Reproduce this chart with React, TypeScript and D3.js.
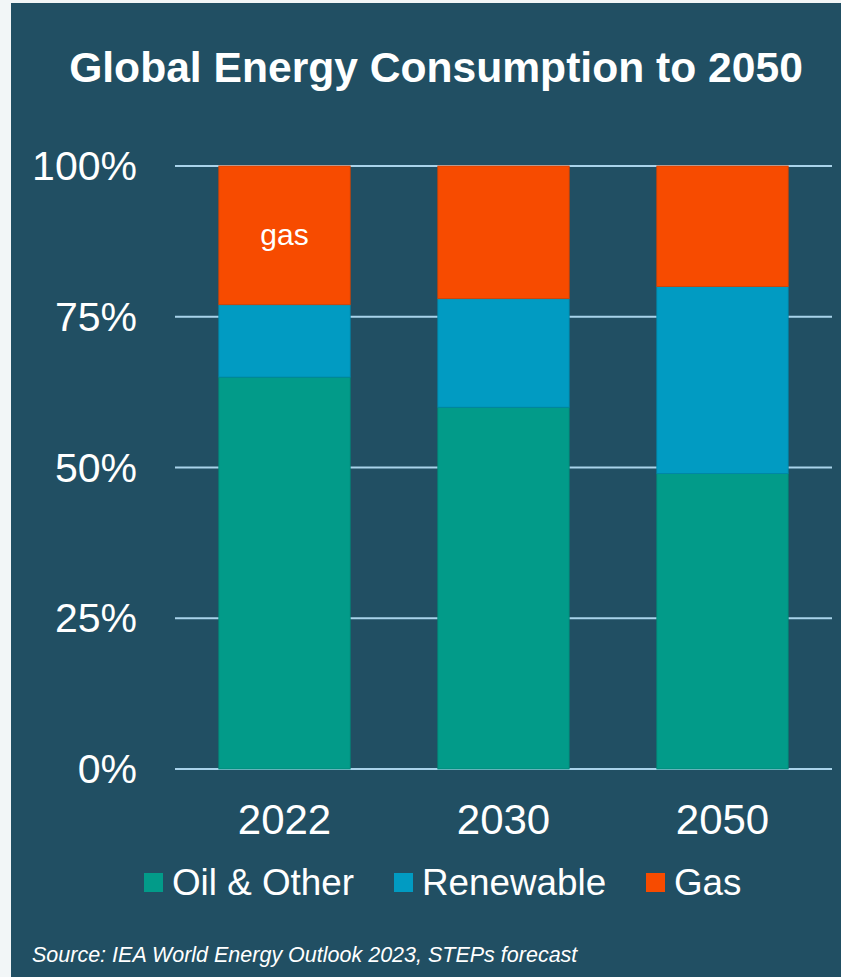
import React from "react";
import * as d3 from "d3";

const years = ["2022", "2030", "2050"];
const seriesNames = ["Oil & Other", "Renewable", "Gas"];
const oilOther = [65, 60, 49];
const renewable = [12, 18, 31];
const gas = [23, 22, 20];
const yTicks = [0, 25, 50, 75, 100];
const colors = ["#029b89", "#019bc2", "#f74b00"];

const W = 841;
const H = 977;

export default function App() {
  const x = d3.scaleBand<string>().domain(years).range([175, 832]).paddingInner(0.4).paddingOuter(0.2);
  const y = d3.scaleLinear().domain([0, 100]).range([769, 166]);

  const rows = years.map((yr, i) => ({ year: yr, "Oil & Other": oilOther[i], Renewable: renewable[i], Gas: gas[i] }));
  const stack = d3.stack<any>().keys(seriesNames)(rows);

  const legendX = [144, 394, 646];

  return (
    <svg width={W} height={H} style={{ position: "fixed", left: 0, top: 0, display: "block" }}
      fontFamily="'Liberation Sans', Arial, Helvetica, sans-serif">
      <rect x={0} y={0} width={W} height={H} fill="#f2f6f7" />
      <rect x={11} y={3} width={W - 11} height={H - 3} fill="#214f63" />
      <text x={436} y={82} textAnchor="middle" fill="#ffffff" fontSize={42.6} fontWeight="bold">
        Global Energy Consumption to 2050
      </text>
      {yTicks.map((t) => (
        <g key={t}>
          <line x1={175} x2={832} y1={y(t)} y2={y(t)} stroke="#a9d3ea" strokeWidth={2} />
          <text x={137} y={y(t) + 14} textAnchor="end" fill="#ffffff" fontSize={41}>
            {t}%
          </text>
        </g>
      ))}
      {stack.map((layer, si) => (
        <g key={layer.key}>
          {layer.map((d: any, i: number) => (
            <rect
              key={i}
              x={x(years[i])}
              width={x.bandwidth()}
              y={y(d[1])}
              height={y(d[0]) - y(d[1])}
              fill={colors[si]}
              stroke={d3.color(colors[si])!.darker(0.4).toString()}
              strokeWidth={0.8}
            />
          ))}
        </g>
      ))}
      <text x={x("2022")! + x.bandwidth() / 2} y={(y(100) + y(oilOther[0] + renewable[0])) / 2 + 10}
        textAnchor="middle" fill="#ffffff" fontSize={30}>gas</text>
      {years.map((yr) => (
        <text key={yr} x={x(yr)! + x.bandwidth() / 2} y={834} textAnchor="middle" fill="#ffffff" fontSize={42}>
          {yr}
        </text>
      ))}
      {seriesNames.map((s, i) => (
        <g key={s}>
          <rect x={legendX[i]} y={873} width={19} height={19} fill={colors[i]} />
          <text x={legendX[i] + 28} y={895} fill="#ffffff" fontSize={36.8}>{s}</text>
        </g>
      ))}
      <text x={32} y={962} fill="#ffffff" fontSize={21.5} fontStyle="italic">
        Source: IEA World Energy Outlook 2023, STEPs forecast
      </text>
    </svg>
  );
}
